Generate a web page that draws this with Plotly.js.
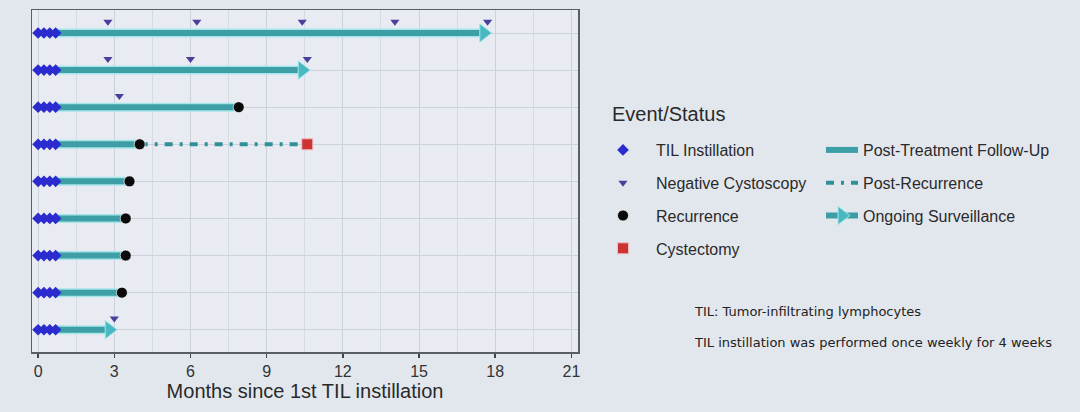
<!DOCTYPE html>
<html>
<head>
<meta charset="utf-8">
<script src="https://cdn.plot.ly/plotly-3.0.1.min.js"></script>
<style>
html,body{margin:0;padding:0;background:#e2e7ee;}
#chart{width:1080px;height:412px;}
</style>
</head>
<body>
<div id="chart"></div>
<script>
// ---------- data ----------
const patients = [1, 2, 3, 4, 5, 6, 7, 8, 9];
const tilWeeks = [0, 0.23, 0.46, 0.69];            // months of the 4 weekly instillations
const followUpEnd = [17.55, 10.4, 7.9, 4.0, 3.6, 3.45, 3.45, 3.3, 2.8];

const negCystoPatient = [1, 1, 1, 1, 1, 2, 2, 2, 3, 9];
const negCystoMonth   = [2.75, 6.25, 10.4, 14.05, 17.7, 2.75, 6.0, 10.6, 3.2, 3.0];

const recurPatient = [3, 4, 5, 6, 7, 8];
const recurMonth   = [7.9, 4.0, 3.6, 3.45, 3.45, 3.3];

const cystPatient = [4];
const cystMonth   = [10.6];

const postRecPatient = [4];
const postRecStart   = [4.0];
const postRecEnd     = [10.6];

const ongoingPatient = [1, 2, 9];
const ongoingMonth   = [17.55, 10.4, 2.8];

const xTicks = [0, 3, 6, 9, 12, 15, 18, 21];

// ---------- build traces ----------
const fx = [], fy = [];
patients.forEach((p, i) => {
  fx.push(tilWeeks[tilWeeks.length - 1], followUpEnd[i], null);
  fy.push(p, p, null);
});
const tx = [], ty = [];
patients.forEach(p => tilWeeks.forEach(w => { tx.push(w); ty.push(p); }));
const px = [], py = [];
postRecPatient.forEach((p, i) => { px.push(postRecStart[i], postRecEnd[i], null); py.push(p, p, null); });
const ox = [], oy = [];
ongoingPatient.forEach((p, i) => { ox.push(ongoingMonth[i], null); oy.push(p, null); });

const TRI_OFFSET = 0.3;

const traces = [
  { x: fx, y: fy, mode: 'lines', line: { color: 'rgba(160,228,234,0.9)', width: 9 },
    hoverinfo: 'skip', showlegend: false },
  { name: 'Post-Treatment Follow-Up', x: fx, y: fy, mode: 'lines',
    line: { color: '#3d9fa5', width: 6 }, legend: 'legend2', legendgroup: 'g5' },
  { name: 'Post-Recurrence', x: px, y: py, mode: 'lines',
    line: { color: '#2f9096', width: 4, dash: '8px,7px,3px,7px' }, legend: 'legend2', legendgroup: 'g6' },
  { name: 'Ongoing Surveillance', x: ox, y: oy, mode: 'lines+markers',
    line: { color: '#3d9fa5', width: 6 },
    marker: { symbol: 'triangle-right', size: 16, color: '#48b9c1', line: { color: '#a7e6ea', width: 1 } },
    legend: 'legend2', legendgroup: 'g7' },
  { name: 'TIL Instillation', x: tx, y: ty, mode: 'markers',
    marker: { symbol: 'diamond', size: 9, color: '#2b2bcf' }, legendgroup: 'g1' },
  { name: 'Negative Cystoscopy', x: negCystoMonth, y: negCystoPatient.map(p => p - TRI_OFFSET), mode: 'markers',
    marker: { symbol: 'triangle-down', size: 8, color: '#4a3f9c' }, legendgroup: 'g2' },
  { name: 'Recurrence', x: recurMonth, y: recurPatient, mode: 'markers',
    marker: { symbol: 'circle', size: 11, color: '#0a0a0a', line: { color: 'rgba(255,255,255,0.7)', width: 1 } },
    legendgroup: 'g3' },
  { name: 'Cystectomy', x: cystMonth, y: cystPatient, mode: 'markers',
    marker: { symbol: 'square', size: 11, color: '#cc3434', line: { color: '#f2b9bb', width: 1 } },
    legendgroup: 'g4' }
];

const FONT = 'Liberation Sans, Arial, sans-serif';

const layout = {
  width: 1080, height: 412,
  margin: { l: 32, r: 502, t: 10, b: 60 },
  paper_bgcolor: '#e2e7ee',
  plot_bgcolor: '#e8ecf2',
  font: { family: FONT, color: '#2a2a2a' },
  xaxis: {
    range: [-0.24, 21.26], tickvals: xTicks, ticktext: xTicks.map(String),
    ticks: 'outside', ticklen: 4, tickwidth: 1.5, tickcolor: '#444',
    tickfont: { size: 16, color: '#333' },
    showgrid: true, gridcolor: '#cdd2da', gridwidth: 1,
    minor: { dtick: 1.5, tick0: 0, showgrid: true, gridcolor: '#d6dae1', gridwidth: 1 },
    showline: true, mirror: true, linecolor: '#5a5e66', linewidth: 1.5,
    zeroline: false,
    title: { text: 'Months since 1st TIL instillation', font: { size: 20, color: '#2a2a2a' }, standoff: 4 }
  },
  yaxis: {
    range: [9.6, 0.38], tickvals: patients, showticklabels: false, ticks: '',
    showgrid: true, gridcolor: '#cdd2da', gridwidth: 1, zeroline: false,
    showline: true, mirror: true, linecolor: '#5a5e66', linewidth: 1.5
  },
  legend: {
    xref: 'container', yref: 'container', x: 590 / 1080, y: 1 - 133 / 412,
    xanchor: 'left', yanchor: 'top', orientation: 'v',
    itemwidth: 56, tracegroupgap: 9, bgcolor: 'rgba(0,0,0,0)',
    font: { size: 16, color: '#2a2a2a', family: FONT }
  },
  legend2: {
    xref: 'container', yref: 'container', x: 821 / 1080, y: 1 - 133 / 412,
    xanchor: 'left', yanchor: 'top', orientation: 'v',
    itemwidth: 32, tracegroupgap: 9, bgcolor: 'rgba(0,0,0,0)',
    font: { size: 16, color: '#2a2a2a', family: FONT }
  },
  annotations: [
    { text: 'Event/Status', xref: 'paper', yref: 'paper', x: (610 - 32) / 546, y: (352 - 114) / 342,
      xanchor: 'left', yanchor: 'middle', showarrow: false, font: { size: 20, color: '#2a2a2a' } },
    { text: 'TIL: Tumor-infiltrating lymphocytes', xref: 'paper', yref: 'paper', x: (692 - 32) / 546, y: (352 - 311) / 342,
      xanchor: 'left', yanchor: 'middle', showarrow: false,
      font: { size: 13, color: '#222', family: 'DejaVu Sans, sans-serif' } },
    { text: 'TIL instillation was performed once weekly for 4 weeks', xref: 'paper', yref: 'paper', x: (692 - 32) / 546, y: (352 - 342) / 342,
      xanchor: 'left', yanchor: 'middle', showarrow: false,
      font: { size: 13, color: '#222', family: 'DejaVu Sans, sans-serif' } }
  ]
};

Plotly.newPlot('chart', traces, layout, { displayModeBar: false, staticPlot: true });
</script>
</body>
</html>
